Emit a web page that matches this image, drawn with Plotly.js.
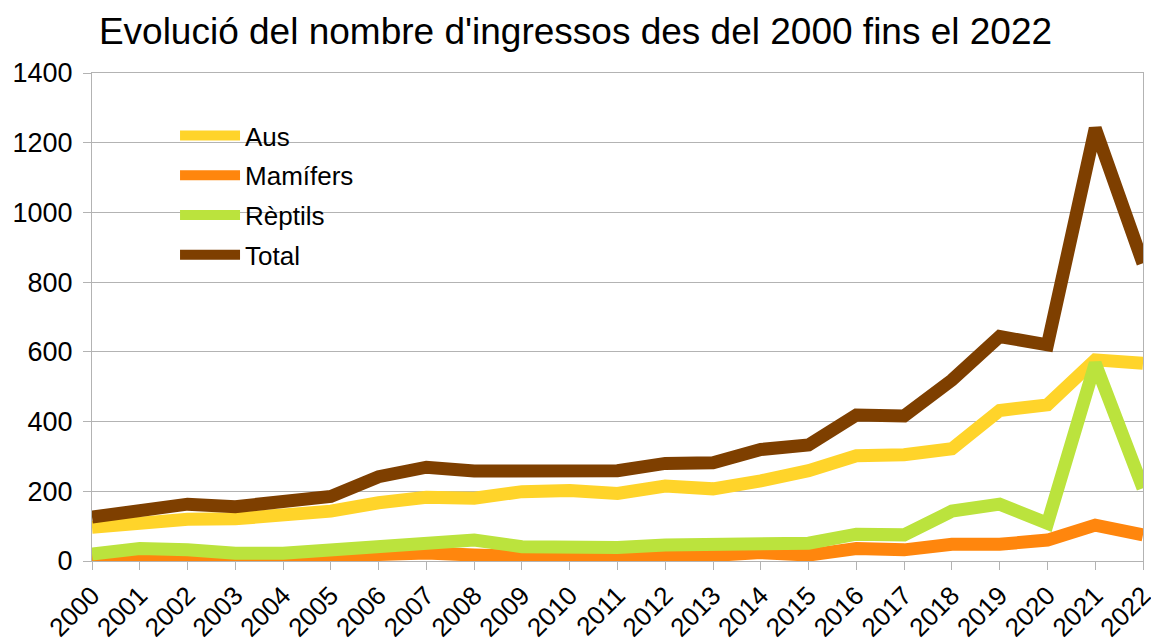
<!DOCTYPE html>
<html>
<head>
<meta charset="utf-8">
<script src="https://cdn.plot.ly/plotly-3.0.1.min.js"></script>
<style>
  html, body { margin: 0; padding: 0; background: #fff; }
  #chart { width: 1151px; height: 643px; }
</style>
</head>
<body>
<div id="chart"></div>
<script>
// Years on the x axis
const years = ['2000', '2001', '2002', '2003', '2004', '2005', '2006', '2007', '2008', '2009', '2010', '2011',
  '2012', '2013', '2014', '2015', '2016', '2017', '2018', '2019', '2020', '2021', '2022'];

// Values
const aus = [97, 108, 120, 121, 132, 143, 167, 183, 180, 199, 202, 194,
  215, 207, 230, 259, 302, 305, 322, 432, 448, 577, 567];
const mamifers = [2, 6, 5, 1, 0, 2, 19, 23, 17, 12, 10, 15,
  12, 16, 24, 17, 36, 32, 48, 48, 60, 103, 75];
const reptils = [20, 36, 32, 22, 22, 32, 48, 53, 60, 41, 39, 39,
  46, 49, 53, 51, 77, 75, 143, 163, 108, 567, 209];
const total = [126, 149, 163, 156, 170, 185, 242, 269, 258, 261, 259, 259,
  280, 282, 320, 333, 419, 416, 519, 644, 620, 1241, 854];

const yTicks = [0, 200, 400, 600, 800, 1000, 1200, 1400];

const series = [
  { name: 'Aus', y: aus, color: '#ffd42a' },
  { name: 'Mamífers', y: mamifers, color: '#ff860d' },
  { name: 'Rèptils', y: reptils, color: '#bbe33d' },
  { name: 'Total', y: total, color: '#7e3f00' }
];

// one legend group per series so the group gap spaces the legend rows
const traces = series.map(s => ({
  x: years,
  y: s.y,
  name: s.name,
  legendgroup: s.name,
  type: 'scatter',
  mode: 'lines',
  line: { color: s.color, width: 13, shape: 'linear' },
  hoverinfo: 'x+y+name'
}));

const gray = '#b3b3b3';

const layout = {
  width: 1151,
  height: 643,
  margin: { l: 92, r: 8, t: 73, b: 82 },
  paper_bgcolor: '#ffffff',
  plot_bgcolor: '#ffffff',
  font: { family: 'Liberation Sans, Arial, sans-serif', color: '#000000', size: 26 },
  title: {
    text: "Evolució del nombre d'ingressos des del 2000 fins el 2022",
    font: { size: 37, color: '#000000' },
    x: 0.5,
    xanchor: 'center',
    y: 0.952,
    yanchor: 'middle'
  },
  xaxis: {
    type: 'category',
    tickvals: years,
    ticktext: years,
    tickangle: -45,
    tickfont: { size: 26 },
    showgrid: false,
    zeroline: false,
    showline: true,
    linecolor: gray,
    linewidth: 1,
    mirror: true,
    ticks: 'outside',
    ticklen: 8,
    tickcolor: gray,
    range: [0, years.length - 1]
  },
  yaxis: {
    range: [0, 1400],
    tickvals: yTicks,
    ticktext: yTicks.map(String),
    tickfont: { size: 27 },
    ticklabelstandoff: 5,
    showgrid: true,
    gridcolor: gray,
    gridwidth: 1,
    zeroline: false,
    showline: true,
    linecolor: gray,
    linewidth: 1,
    mirror: true,
    ticks: 'outside',
    ticklen: 8,
    tickcolor: gray
  },
  showlegend: true,
  legend: {
    x: 0.079,
    y: 0.92,
    xanchor: 'left',
    yanchor: 'top',
    bgcolor: 'rgba(0,0,0,0)',
    borderwidth: 0,
    font: { size: 26 },
    itemwidth: 60,
    traceorder: 'grouped',
    tracegroupgap: 3
  }
};

Plotly.newPlot('chart', traces, layout, { displayModeBar: false, staticPlot: true });
</script>
</body>
</html>
